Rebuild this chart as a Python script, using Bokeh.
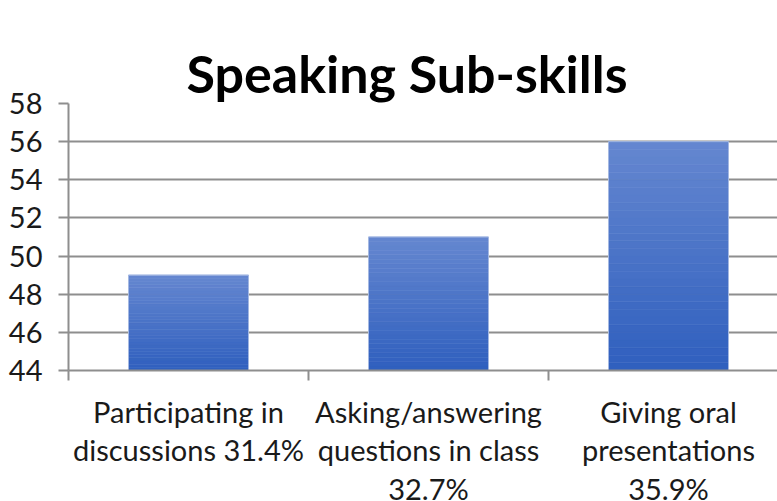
from bokeh.plotting import figure
from bokeh.models import Range1d, FixedTicker, Title
from bokeh.embed import file_html
from bokeh.resources import INLINE

# ---- data ----
title_text = "Speaking Sub-skills"
categories = [
    "Participating in\ndiscussions 31.4%",
    "Asking/answering\nquestions in class\n32.7%",
    "Giving oral\npresentations\n35.9%",
]
values = [49, 51, 56]
y_ticks = [44, 46, 48, 50, 52, 54, 56, 58]

FONT = "Lato"
GRID = "#8e8e8e"
TOP_C = (0x65, 0x87, 0xD0)
BOT_C = (0x2F, 0x5F, 0xBE)

x_pos = [i + 0.5 for i in range(len(categories))]

p = figure(
    frame_width=709, frame_height=267,
    min_border_left=68, min_border_right=0, min_border_top=103, min_border_bottom=131,
    x_range=Range1d(0, 709 / 240), y_range=Range1d(y_ticks[0], y_ticks[-1]),
    output_backend="svg", toolbar_location=None,
)
p.outline_line_color = None
p.background_fill_color = "white"
p.border_fill_color = "white"

# built-in title used as an (invisible, white-on-white) spacer next to the plot area
p.title.text = "."
p.title.text_font_size = "1px"
p.title.text_color = "white"
p.title.standoff = 34

# real title, stacked above the spacer
p.add_layout(Title(text=title_text, align="left", vertical_align="bottom", offset=118, standoff=0,
                   text_font=FONT, text_font_style="bold", text_font_size="52px",
                   text_color="#000000"), "above")

# gradient bars built from values
N = 30
base = y_ticks[0]
for x, v in zip(x_pos, values):
    xs, bots, tops, cols = [], [], [], []
    for k in range(N):
        t = (k + 0.5) / N
        c = tuple(int(round(BOT_C[j] + (TOP_C[j] - BOT_C[j]) * t)) for j in range(3))
        xs.append(x)
        bots.append(base + (v - base) * k / N)
        tops.append(base + (v - base) * (k + 1) / N)
        cols.append("#%02x%02x%02x" % c)
    p.vbar(x=xs, bottom=bots, top=tops, width=0.5, fill_color=cols, line_color=cols, line_width=0.6)
p.vbar(x=x_pos, bottom=base, top=values, width=0.5, fill_color=None, line_color="#a4b8e2", line_width=1)

# grid
p.xgrid.visible = False
p.ygrid.ticker = FixedTicker(ticks=y_ticks)
p.ygrid.grid_line_color = GRID
p.ygrid.grid_line_width = 2

# y axis
ya = p.yaxis[0]
ya.ticker = FixedTicker(ticks=y_ticks)
ya.axis_line_color = GRID
ya.axis_line_width = 2
ya.major_tick_line_color = GRID
ya.major_tick_line_width = 2
ya.major_tick_out = 10
ya.major_tick_in = 0
ya.minor_tick_line_color = None
ya.major_label_standoff = 16
ya.major_label_text_font = FONT
ya.major_label_text_font_size = "29px"
ya.major_label_text_color = "#1a1a1a"

# x axis
xa = p.xaxis[0]
xa.ticker = FixedTicker(ticks=x_pos, minor_ticks=list(range(len(categories) + 1)))
xa.major_label_overrides = {x: c for x, c in zip(x_pos, categories)}
xa.axis_line_color = GRID
xa.axis_line_width = 2
xa.major_tick_line_color = None
xa.major_tick_out = 0
xa.major_tick_in = 0
xa.minor_tick_line_color = GRID
xa.minor_tick_line_width = 2
xa.minor_tick_out = 10
xa.minor_tick_in = 0
xa.major_label_standoff = 13
xa.major_label_text_font = FONT
xa.major_label_text_font_size = "29px"
xa.major_label_text_color = "#1a1a1a"
xa.major_label_text_line_height = 1.1

open("out.html", "w").write(file_html(p, INLINE))
